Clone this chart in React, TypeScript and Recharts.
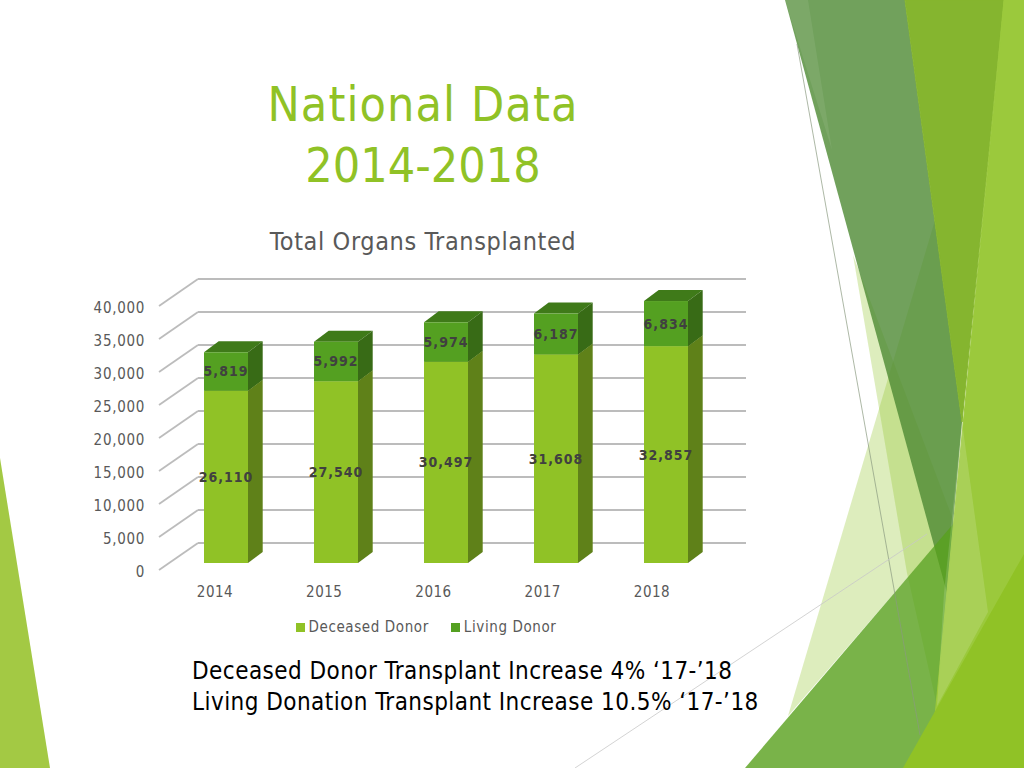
import { BarChart, Bar, XAxis, YAxis, CartesianGrid, Legend, LabelList } from "recharts";

const years = ["2014", "2015", "2016", "2017", "2018"];
const deceasedDonor = [26110, 27540, 30497, 31608, 32857];
const livingDonor = [5819, 5992, 5974, 6187, 6834];
const yTicks = [0, 5000, 10000, 15000, 20000, 25000, 30000, 35000, 40000];

const data = years.map((year, i) => ({ year, deceased: deceasedDonor[i], living: livingDonor[i] }));

const FONT = "'DejaVu Sans Condensed', 'DejaVu Sans', sans-serif";
const TEXT_GREY = "#595959";

// 3D look: bars get a side and a top face, grid sits on the back wall
const BAR_DX = 14.7;
const BAR_DY = 11;

function Bar3D({ x, y, width, height, front, side, top }: any) {
  const r = x + width;
  const b = y + height;
  return (
    <g>
      <polygon points={`${x},${y} ${r},${y} ${r + BAR_DX},${y - BAR_DY} ${x + BAR_DX},${y - BAR_DY}`} fill={top} />
      <polygon points={`${r},${y} ${r + BAR_DX},${y - BAR_DY} ${r + BAR_DX},${b - BAR_DY} ${r},${b}`} fill={side} />
      <rect x={x} y={y} width={width} height={height} fill={front} />
    </g>
  );
}

function GridLine3D({ y1 }: any) {
  return (
    <g stroke="#bcbcbc" strokeWidth={1.8} fill="none">
      <line x1={159} y1={y1 + 7} x2={198} y2={y1 - 20} />
      <line x1={198} y1={y1 - 20} x2={746} y2={y1 - 20} />
    </g>
  );
}

function YTick({ x, y, payload }: any) {
  return (
    <text x={x - 18} y={y + 9} dy={5} textAnchor="end" fontSize={15} letterSpacing={0.7} fontFamily={FONT} fill={TEXT_GREY}>
      {payload.value.toLocaleString("en-US")}
    </text>
  );
}

function XTick({ x, index, payload }: any) {
  return (
    <text x={x - 11 - index * 0.75} y={597} textAnchor="middle" fontSize={15} letterSpacing={0.5} fontFamily={FONT} fill={TEXT_GREY}>
      {payload.value}
    </text>
  );
}

function Background() {
  return (
    <svg width={1024} height={768} style={{ position: "absolute", left: 0, top: 0 }}>
      <polygon points="0,458 0,768 50,768" fill="#a3c944" />
      <polygon points="935,220 788,716 953,525 965,430" fill="#90c226" fillOpacity={0.3} />
      <polygon points="853,255 988,612 937,706 907,573" fill="#90c226" fillOpacity={0.3} />
      <polygon points="785,0 905,0 962,422 947,593" fill="#4d8a33" fillOpacity={0.8} />
      <polygon points="785,0 808,0 832,150" fill="#ffffff" fillOpacity={0.08} />
      <polygon points="745,768 1024,441 1024,768" fill="#58a01c" fillOpacity={0.8} />
      <polygon points="905,0 1004,0 962,422" fill="#85b52f" stroke="#85b52f" />
      <polygon points="1004,0 1024,0 1024,768 930,768" fill="#9bc93c" stroke="#9bc93c" />
      <polygon points="962,422 988,612 937,706 944,593" fill="#ffffff" fillOpacity={0.14} />
      <polygon points="1024,554 1024,768 903,768" fill="#90c226" />
      <line x1={797} y1={44} x2={920} y2={735} stroke="#8a9a80" strokeOpacity={0.7} />
      <line x1={575} y1={768} x2={927} y2={534} stroke="#c8c8c8" strokeOpacity={0.8} />
    </svg>
  );
}

export default function App() {
  return (
    <div style={{ position: "absolute", left: 0, top: 0, width: 1024, height: 768, background: "#fff", overflow: "hidden", fontFamily: FONT }}>
      <Background />
      <div style={{ position: "absolute", left: 123, width: 600, top: 74, textAlign: "center", color: "#90c226", fontSize: 48, lineHeight: "61px" }}>
        <span style={{ letterSpacing: 1.1 }}>National Data</span>
        <br />
        2014-2018
      </div>
      <div style={{ position: "absolute", left: 123, width: 600, top: 227, textAlign: "center", color: TEXT_GREY, fontSize: 25, lineHeight: "30px", letterSpacing: 0.6 }}>
        Total Organs Transplanted
      </div>
      <div style={{ position: "absolute", left: 192, top: 656, color: "#000", fontSize: 24, lineHeight: "31px", letterSpacing: 0.45, whiteSpace: "nowrap" }}>
        Deceased Donor Transplant Increase 4% ‘17-’18
        <br />
        Living Donation Transplant Increase 10.5% ‘17-’18
      </div>
      <div style={{ position: "absolute", left: 0, top: 0 }}>
        <BarChart width={1024} height={768} data={data} barSize={44} margin={{ top: 299, right: 303, bottom: 175, left: 111 }}>
          <CartesianGrid vertical={false} horizontal={(props: any) => <GridLine3D key={props.key ?? props.y1} {...props} />} />
          <XAxis dataKey="year" height={30} axisLine={false} tickLine={false} tick={<XTick />} />
          <YAxis width={60} domain={[0, 40000]} ticks={yTicks} interval={0} axisLine={false} tickLine={false} tick={<YTick />} />
          <Legend
            layout="horizontal"
            verticalAlign="middle"
            align="center"
            iconType="square"
            iconSize={9}
            wrapperStyle={{ top: 618, left: 292, width: 290, fontFamily: FONT, fontSize: 15, letterSpacing: 0.6 }}
            formatter={(value: string) => <span style={{ color: TEXT_GREY, marginRight: 12 }}>{value}</span>}
          />
          <Bar
            dataKey="deceased"
            name="Deceased Donor"
            stackId="a"
            fill="#90c226"
            isAnimationActive={false}
            shape={(p: any) => <Bar3D {...p} front="#90c226" side="#5f8119" top="#5f8119" />}
          >
            <LabelList dataKey="deceased" position="center" formatter={(v: number) => v.toLocaleString("en-US")} fill="#404040" fontSize={14} fontWeight={700} fontFamily={FONT} letterSpacing={1} />
          </Bar>
          <Bar
            dataKey="living"
            name="Living Donor"
            stackId="a"
            fill="#54a021"
            isAnimationActive={false}
            shape={(p: any) => <Bar3D {...p} front="#54a021" side="#386b16" top="#3f7a19" />}
          >
            <LabelList dataKey="living" position="center" formatter={(v: number) => v.toLocaleString("en-US")} fill="#404040" fontSize={14} fontWeight={700} fontFamily={FONT} letterSpacing={1} />
          </Bar>
        </BarChart>
      </div>
    </div>
  );
}
